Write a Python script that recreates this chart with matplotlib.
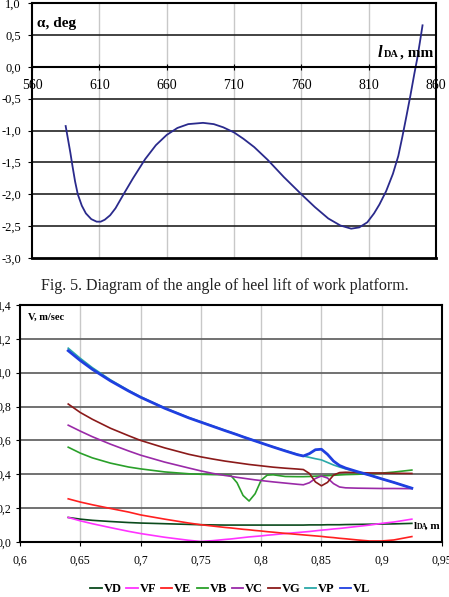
import numpy as np
import matplotlib
matplotlib.use("Agg")
import matplotlib.pyplot as plt
from matplotlib.lines import Line2D

plt.rcParams['font.family'] = ['Liberation Serif', 'DejaVu Serif']

# Fig. 5 - heel lift angle vs l_DA
l_da = [585, 586, 587, 588.5, 590, 592, 594, 597, 600, 604, 608, 611, 614, 618, 622, 628,
        635, 644, 652, 660, 668, 676, 687, 695, 702, 710, 717, 725, 735, 747, 760,
        770, 780, 789, 797, 803, 809, 814, 818, 823, 828, 832, 835, 838, 841, 844, 846, 848, 850]
alpha = [-0.93, -1.05, -1.17, -1.35, -1.55, -1.80, -2.00, -2.18, -2.30, -2.39, -2.43, -2.43, -2.40, -2.33, -2.22, -2.00,
         -1.75, -1.45, -1.23, -1.07, -0.96, -0.90, -0.88, -0.90, -0.95, -1.03, -1.13, -1.26, -1.46, -1.73, -2.00,
         -2.20, -2.38, -2.49, -2.54, -2.52, -2.44, -2.30, -2.16, -1.95, -1.68, -1.40, -1.10, -0.78, -0.45, -0.10, 0.12, 0.38, 0.65]

top_xticks = [560, 610, 660, 710, 760, 810, 860]
top_yticks = [1.0, 0.5, 0.0, -0.5, -1.0, -1.5, -2.0, -2.5, -3.0]

# velocities vs l_DA
x_v = [0.64, 0.65, 0.66, 0.675, 0.69, 0.70, 0.72, 0.74, 0.75, 0.76, 0.77, 0.775, 0.78, 0.785, 0.79,
       0.795, 0.80, 0.805, 0.81, 0.82, 0.83, 0.835, 0.84, 0.845, 0.85, 0.855, 0.86, 0.865, 0.87,
       0.88, 0.89, 0.90, 0.91, 0.925]
VD = [0.145, 0.135, 0.128, 0.121, 0.115, 0.112, 0.108, 0.104, 0.102, 0.101, 0.100, 0.100, 0.100, 0.100, 0.100,
      0.100, 0.100, 0.100, 0.100, 0.100, 0.100, 0.100, 0.101, 0.101, 0.101, 0.102, 0.102, 0.102, 0.103,
      0.104, 0.105, 0.106, 0.107, 0.110]
VF = [0.145, 0.125, 0.108, 0.085, 0.063, 0.050, 0.028, 0.010, 0.003, 0.008, 0.015, 0.018, 0.022, 0.026, 0.030,
      0.033, 0.036, 0.040, 0.043, 0.050, 0.056, 0.059, 0.062, 0.066, 0.070, 0.073, 0.077, 0.080, 0.084,
      0.092, 0.100, 0.110, 0.118, 0.135]
VE = [0.255, 0.236, 0.220, 0.198, 0.177, 0.160, 0.135, 0.112, 0.102, 0.094, 0.086, 0.083, 0.079, 0.075, 0.072,
      0.068, 0.065, 0.061, 0.058, 0.051, 0.045, 0.042, 0.039, 0.036, 0.033, 0.029, 0.026, 0.022, 0.019,
      0.012, 0.006, 0.006, 0.012, 0.032]
VB = [0.56, 0.525, 0.497, 0.466, 0.443, 0.432, 0.414, 0.403, 0.400, 0.398, 0.397, 0.392, 0.350, 0.275, 0.242,
      0.285, 0.365, 0.395, 0.397, 0.387, 0.386, 0.386, 0.387, 0.389, 0.390, 0.392, 0.394, 0.396, 0.398,
      0.400, 0.403, 0.407, 0.413, 0.425]
VC = [0.69, 0.655, 0.622, 0.578, 0.538, 0.513, 0.472, 0.437, 0.420, 0.405, 0.393, 0.388, 0.382, 0.377, 0.372,
      0.367, 0.363, 0.359, 0.355, 0.348, 0.341, 0.338, 0.350, 0.375, 0.390, 0.378, 0.345, 0.325, 0.320,
      0.318, 0.317, 0.316, 0.316, 0.315]
VG = [0.815, 0.765, 0.725, 0.672, 0.628, 0.600, 0.556, 0.518, 0.503, 0.490, 0.478, 0.473, 0.468, 0.463, 0.458,
      0.454, 0.450, 0.446, 0.442, 0.436, 0.431, 0.428, 0.405, 0.355, 0.332, 0.352, 0.395, 0.410, 0.412,
      0.410, 0.408, 0.407, 0.406, 0.405]
VP = [1.145, 1.085, 1.030, 0.958, 0.896, 0.858, 0.792, 0.735, 0.710, 0.685, 0.660, 0.648, 0.635, 0.622, 0.610,
      0.598, 0.585, 0.573, 0.562, 0.540, 0.518, 0.508, 0.500, 0.492, 0.485, 0.470, 0.455, 0.443, 0.432,
      0.415, 0.395, 0.373, 0.352, 0.318]
VL = [1.13, 1.072, 1.020, 0.952, 0.892, 0.855, 0.790, 0.733, 0.708, 0.683, 0.658, 0.646, 0.634, 0.621, 0.609,
      0.597, 0.585, 0.573, 0.561, 0.538, 0.516, 0.508, 0.522, 0.545, 0.548, 0.518, 0.478, 0.452, 0.437,
      0.415, 0.395, 0.373, 0.352, 0.318]

v_names = ["VD", "VF", "VE", "VB", "VC", "VG", "VP", "VL"]
v_colors = ["#0b4a1c", "#ff33ff", "#ff2020", "#2aa02a", "#9a2aa8", "#8b1a1a", "#2aa8a8", "#1f3fe0"]
bot_xticks = [0.6, 0.65, 0.7, 0.75, 0.8, 0.85, 0.9, 0.95]
bot_yticks = [0.0, 0.2, 0.4, 0.6, 0.8, 1.0, 1.2, 1.4]


def comma(v, fmt):
    return (fmt % v).replace('.', ',')


fig = plt.figure(figsize=(4.49, 5.97), dpi=100)

# ---- top chart
ax1 = fig.add_axes([32/449, 1-258/597, 404/449, 255/597])
ax1.set_xlim(560, 860)
ax1.set_ylim(-3.0, 1.0)
ax1.set_xticks(top_xticks)
ax1.set_xticklabels([str(t) for t in top_xticks], fontsize=9)
ax1.set_yticks(top_yticks)
ax1.set_yticklabels([comma(t, "%.1f") for t in top_yticks], fontsize=9)
for t in top_xticks[1:-1]:
    ax1.axvline(t, color="#c8c8c8", lw=1.0, zorder=0)
for t in top_yticks[1:-1]:
    ax1.axhline(t, color="#222222", lw=1.2, zorder=0)
ax1.spines['bottom'].set_position(('data', 0))
ax1.axhline(-3.0, color="black", lw=2.0, clip_on=False)
for s in ['left', 'right', 'top', 'bottom']:
    ax1.spines[s].set_linewidth(1.5)
ax1.tick_params(axis='x', direction='inout', length=5, pad=6)
ax1.tick_params(axis='y', direction='out', length=3, pad=5)
ax1.plot(l_da, alpha, color="#2a2a8c", lw=1.3)
ax1.text(564, 0.62, "α, deg", fontsize=11, fontweight='bold')
ax1.text(817, 0.22, "l", fontsize=12, fontweight='bold', style='italic', va='center')
ax1.text(821.5, 0.19, "DA", fontsize=7.5, fontweight='bold', va='center')
ax1.text(833.5, 0.22, ", mm", fontsize=11, fontweight='bold', va='center')

fig.text(0.5, 1-286/597, "Fig. 5. Diagram of the angle of heel lift of work platform.",
         ha='center', va='center', fontsize=11.5, color="#222222")

# ---- bottom chart
ax2 = fig.add_axes([20/449, 1-542/597, 422/449, 237/597])
ax2.set_xlim(0.6, 0.95)
ax2.set_ylim(0.0, 1.4)
ax2.set_xticks(bot_xticks)
ax2.set_xticklabels([comma(t, "%g") for t in bot_xticks], fontsize=8.5)
ax2.set_yticks(bot_yticks)
ax2.set_yticklabels([comma(t, "%.1f") for t in bot_yticks], fontsize=8.5)
for t in bot_xticks[1:-1]:
    ax2.axvline(t, color="#c8c8c8", lw=1.0, zorder=0)
for t in bot_yticks[1:-1]:
    ax2.axhline(t, color="#666666", lw=1.3, zorder=0)
for s in ['left', 'right', 'top', 'bottom']:
    ax2.spines[s].set_linewidth(1.5)
ax2.tick_params(axis='x', direction='out', length=3, pad=6)
ax2.tick_params(axis='y', direction='out', length=3, pad=3)

series = [VD, VF, VE, VB, VC, VG, VP, VL]
for name, vals, col in zip(v_names, series, v_colors):
    lw = 2.0 if name == "VL" else 1.2
    ax2.plot(x_v, vals, color=col, lw=lw, label=name)

ax2.text(0.607, 1.33, "V, m/sec", fontsize=7.5, fontweight='bold', va='center')
ax2.text(0.9265, 0.093, "l", fontsize=8, fontweight='bold', va='center')
ax2.text(0.929, 0.088, "DA", fontsize=5.5, fontweight='bold', va='center')
ax2.text(0.9355, 0.093, ", m", fontsize=8, fontweight='bold', va='center')

handles = [Line2D([0], [0], color=c, lw=1.3) for c in v_colors]
fig.legend(handles, v_names, loc='center', bbox_to_anchor=(0.513, 1-589/597), ncol=8,
           frameon=False, prop={'weight': 'bold', 'size': 9},
           handlelength=0.9, handletextpad=0.15, columnspacing=0.4)

fig.savefig("out.png", dpi=100)
